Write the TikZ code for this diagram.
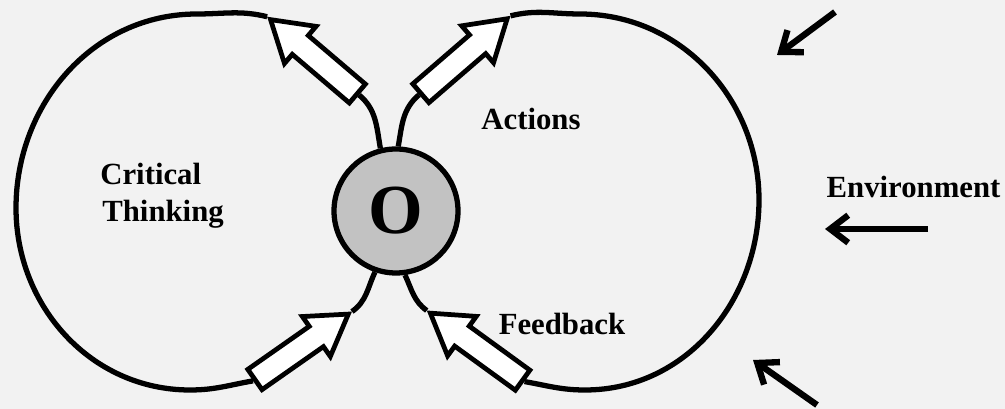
\documentclass[tikz,border=0pt]{standalone}
\usepackage{fontspec}
\setmainfont{Liberation Serif}
\usetikzlibrary{shapes.arrows,arrows.meta}
\definecolor{paper}{gray}{0.95}
\definecolor{corefill}{gray}{0.76}
\begin{document}
\begin{tikzpicture}[
    loopline/.style={line width=3pt},
    hollow/.style={single arrow, draw, fill=white, line width=2.7pt, inner sep=0pt,
        inner ysep=0.2cm, minimum height=2.28cm, single arrow head extend=0.24cm,
        single arrow tip angle=64},
    envarrow/.style={line width=3.6pt, -{Straight Barb[length=0.36cm,width=0.55cm]}},
    word/.style={font=\fontsize{17.5}{21}\selectfont\bfseries, inner sep=0pt}
]
     \fill[paper] (0, 0) rectangle (20.1, 8.18);
     \useasboundingbox (0, 0) rectangle (20.1, 8.18);

     \node (o) [circle, draw, line width=3pt, fill=corefill, minimum size=2.48cm,
        inner sep=0pt, font=\fontsize{40}{44}\selectfont\bfseries] at(7.92, 3.96){O};

        \node (tl) [hollow, rotate=139.6] at(6.43, 6.92){};
        \node (tr) [hollow, rotate=40.8] at(9.13, 6.93){};
        \node (bl) [hollow, rotate=35] at(5.87, 1.13){};
        \node (br) [hollow, rotate=144] at(9.69, 1.13){};

        \coordinate (ltop) at(3.94, 7.90);
        \coordinate (lleft) at(0.32, 4.02);
        \coordinate (lbot) at(3.80, 0.38);
        \coordinate (rtop) at(11.60, 7.90);
        \coordinate (rright) at(15.18, 4.18);
        \coordinate (rbot) at(11.70, 0.38);

     \draw[loopline] (tl.tip) to[out=166, in=0] (ltop) to[out=180, in=90] (lleft)
        to[out=270, in=180] (lbot) to[out=0, in=190] (bl.tail);
     \draw[loopline] (tr.tip) to[out=14, in=180] (rtop) to[out=0, in=90] (rright)
        to[out=270, in=0] (rbot) to[out=180, in=-10] (br.tail);

        \draw[loopline] (o.104) to[out=100, in=-40] (tl.tail);
        \draw[loopline] (o.88) to[out=80, in=220] (tr.tail);
        \draw[loopline] (bl.tip) to[out=35, in=245] (o.251);
        \draw[loopline] (br.tip) to[out=144, in=295] (o.-82);

        \coordinate (e1) at(16.70, 7.94);
        \coordinate (e1tip) at(15.54, 7.08);
        \coordinate (e2) at(18.56, 3.60);
        \coordinate (e2tip) at(16.50, 3.60);
        \coordinate (e3) at(16.34, 0.08);
        \coordinate (e3tip) at(15.06, 0.98);
     \draw[envarrow] (e1) to (e1tip);
     \draw[envarrow] (e2) to (e2tip);
     \draw[envarrow] (e3) to (e3tip);

        \node (crit) [word, anchor=base west] at(2.0, 4.48){Critical};
        \node (think) [word, anchor=base west] at(2.04, 3.74){Thinking};
        \node (act) [word, anchor=base] at(10.62, 5.58){Actions};
        \node (feed) [word, anchor=base] at(11.24, 1.48){Feedback};
        \node (env) [word, anchor=base] at(18.27, 4.22){Environment};
\end{tikzpicture}
\end{document}
